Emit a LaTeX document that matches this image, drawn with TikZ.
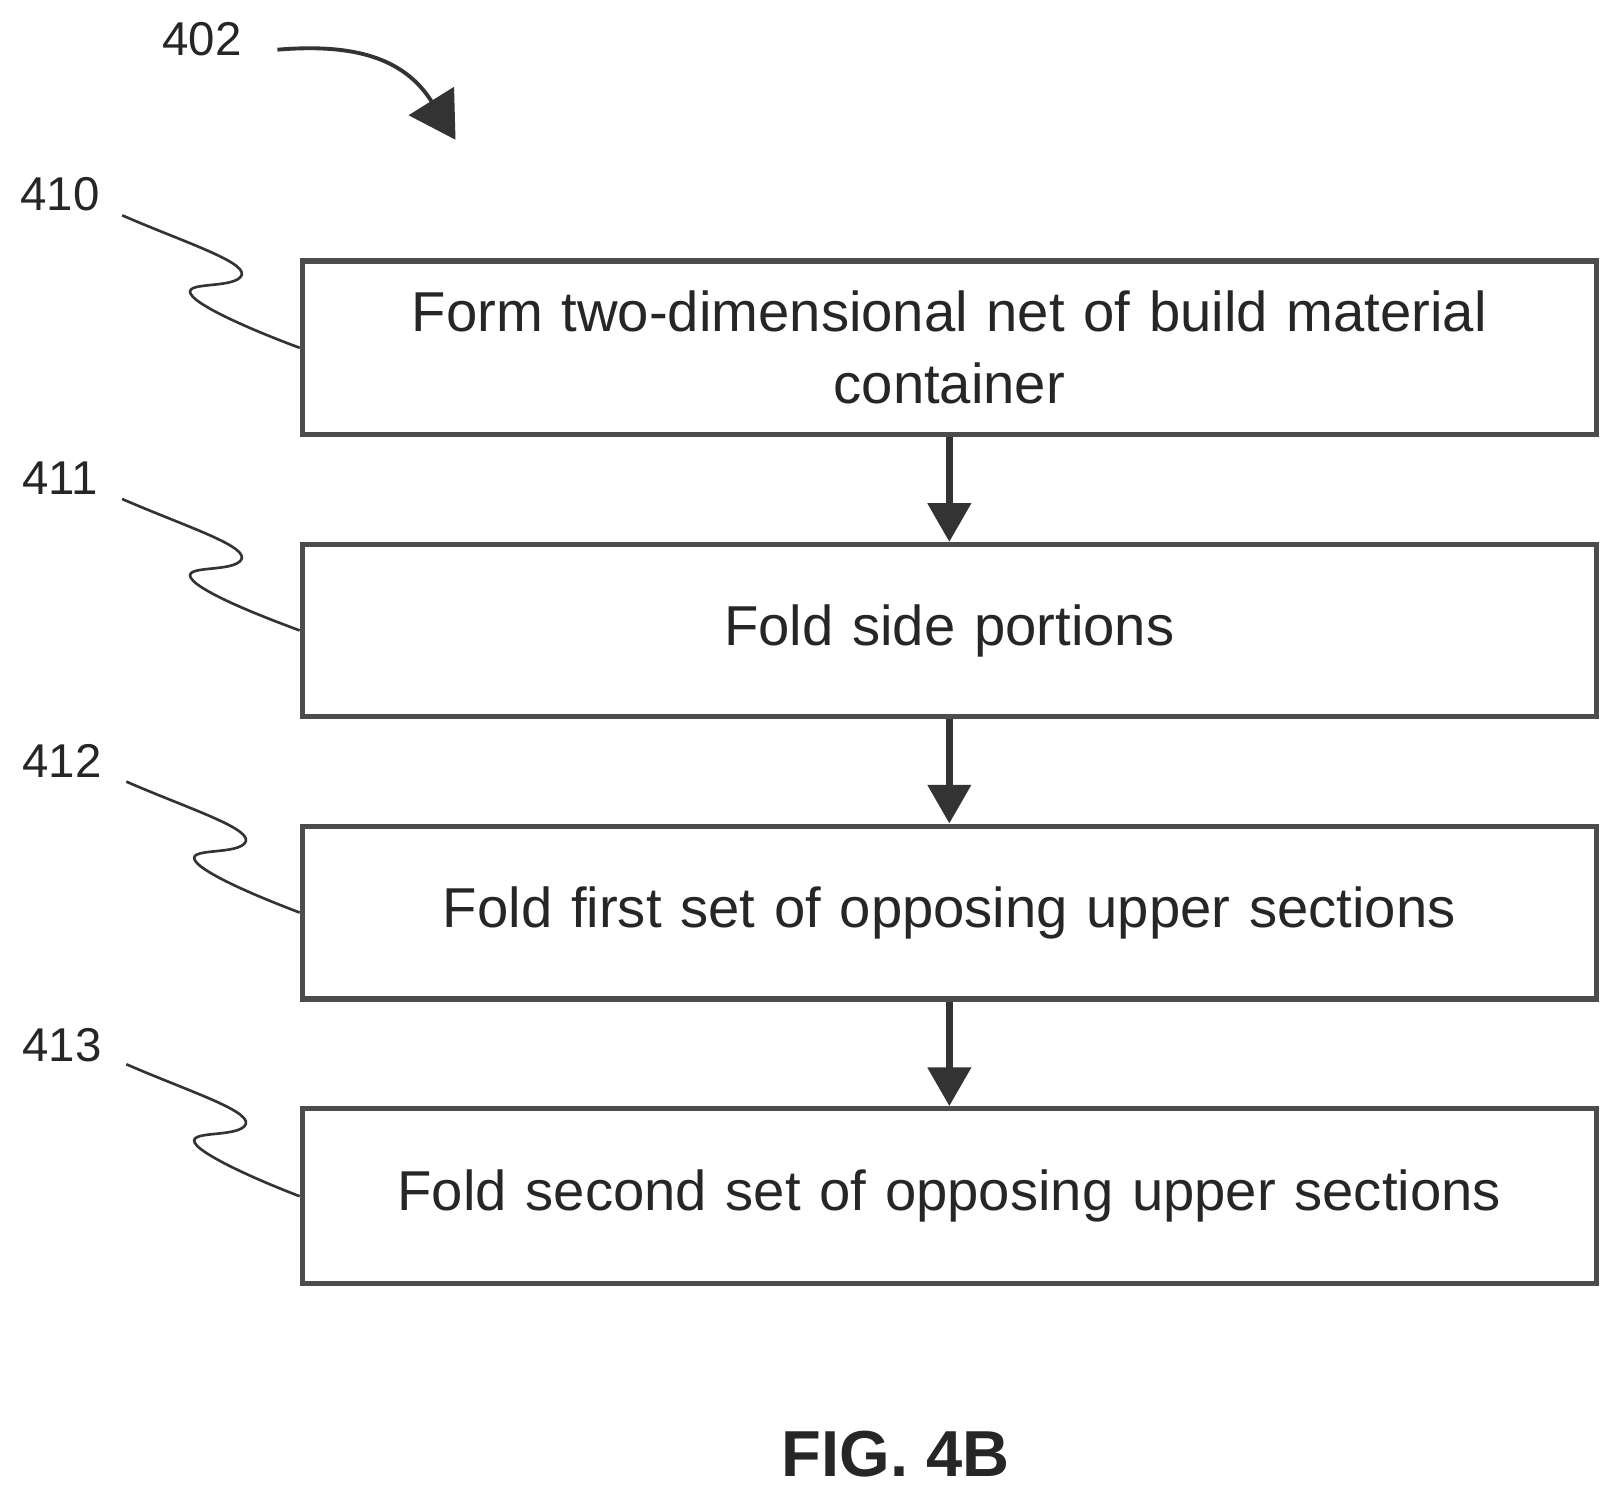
\documentclass[tikz,border=0pt]{standalone}
\usepackage{fontspec}
\setmainfont{Liberation Sans}
\usetikzlibrary{arrows.meta}
\begin{document}
\begin{tikzpicture}[x=0.0207cm,y=-0.0207cm,
  box/.style={draw=black!70,line width=3pt,minimum width=1250*0.0207cm,text width=1220*0.0207cm,align=center,inner sep=0pt,font=\fontsize{32}{41}\selectfont,text=black!85},
  flow/.style={line width=4pt,draw=black!80,-{Triangle[length=22pt,width=24pt]}},
  lead/.style={line width=1.5pt,draw=black!80},
  lab/.style={font=\fontsize{27}{32}\selectfont,text=black!85}]
\useasboundingbox (0,0) rectangle (1560,1437);
\node[box,minimum height=168*0.0207cm] (b1) at (917,336) {Form two-dimensional net of build material\\container};
\node[box,minimum height=166*0.0207cm] (b2) at (917,609) {Fold side portions};
\node[box,minimum height=167*0.0207cm] (b3) at (917,881.5) {Fold first set of opposing upper sections};
\node[box,minimum height=169*0.0207cm] (b4) at (917,1155.5) {Fold second set of opposing upper sections};
\draw[flow] (b1) -- (b2);
\draw[flow] (b2) -- (b3);
\draw[flow] (b3) -- (b4);
\node[lab] (l402) at (195,38) {402};
\node[lab] (l410) at (58,188) {410};
\node[lab] (l411) at (58,462) {411};
\node[lab] (l412) at (60,735) {412};
\node[lab] (l413) at (60,1010) {413};
\coordinate (a0) at (268,48);
\coordinate (a1) at (440,135);
\draw[line width=2.2pt,draw=black!80,-{Triangle[length=26pt,width=30pt]}] (a0) .. controls (340,42) and (390,55) .. (a1);
\draw[lead] (118,208) .. controls (180,235) and (245,255) .. (232,268) .. controls (220,280) and (165,270) .. (190,290) .. controls (210,305) and (260,325) .. (b1.west);
\draw[lead] (118,482) .. controls (180,509) and (245,529) .. (232,542) .. controls (220,554) and (165,544) .. (190,564) .. controls (210,579) and (260,598) .. (b2.west);
\draw[lead] (122,755) .. controls (184,782) and (249,802) .. (236,815) .. controls (224,827) and (169,817) .. (194,837) .. controls (214,852) and (262,871) .. (b3.west);
\draw[lead] (122,1028) .. controls (184,1055) and (249,1075) .. (236,1088) .. controls (224,1100) and (169,1090) .. (194,1110) .. controls (214,1125) and (262,1145) .. (b4.west);
\node[font=\bfseries\fontsize{37}{44}\selectfont,text=black!85] (fig) at (865,1405) {FIG. 4B};
\end{tikzpicture}
\end{document}
